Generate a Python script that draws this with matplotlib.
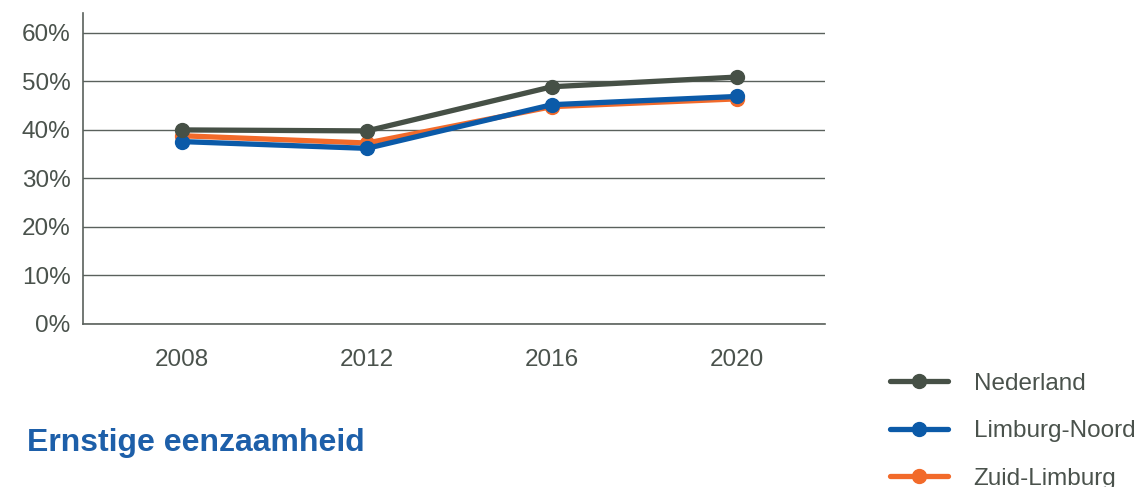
import matplotlib.pyplot as plt
from matplotlib.ticker import PercentFormatter

plt.rcParams['font.family'] = ['Liberation Sans', 'DejaVu Sans']

# Aandeel ernstig eenzamen per regio
jaren = ['2008', '2012', '2016', '2020']
nederland = [40.0, 39.8, 48.9, 50.9]
limburg_noord = [37.6, 36.2, 45.2, 46.9]
zuid_limburg = [38.8, 37.3, 44.8, 46.4]

tekst_kleur = '#4a524c'
lijn_kleur = '#5a615c'

fig = plt.figure(figsize=(11.42, 4.87), dpi=100)
ax = fig.add_axes([83 / 1142, 1 - 324 / 487, 742 / 1142, 311 / 487])

x = range(len(jaren))
reeksen = [
    ('Zuid-Limburg', zuid_limburg, '#f26a2a', 2),
    ('Limburg-Noord', limburg_noord, '#0b5aa8', 3),
    ('Nederland', nederland, '#465046', 4),
]
handles = {}
for naam, waarden, kleur, z in reeksen:
    h, = ax.plot(x, waarden, color=kleur, lw=3.8, marker='o', ms=10,
                 solid_capstyle='round', zorder=z, label=naam)
    handles[naam] = h

ax.set_xlim(-0.535, 3.476)
ax.set_ylim(0, 64.1)
ax.set_yticks(range(0, 61, 10))
ax.yaxis.set_major_formatter(PercentFormatter(decimals=0))
ax.set_xticks(list(x))
ax.set_xticklabels(jaren)
ax.grid(axis='y', color=lijn_kleur, lw=1.0)
ax.set_axisbelow(True)
for kant in ['top', 'right']:
    ax.spines[kant].set_visible(False)
for kant in ['left', 'bottom']:
    ax.spines[kant].set_color(lijn_kleur)
    ax.spines[kant].set_linewidth(1.2)
ax.tick_params(axis='both', length=0, labelsize=17.5, colors=tekst_kleur)
ax.tick_params(axis='y', pad=9)
ax.tick_params(axis='x', pad=18)

volgorde = ['Nederland', 'Limburg-Noord', 'Zuid-Limburg']
leg = fig.legend([handles[n] for n in volgorde], volgorde,
                 loc='upper left', bbox_to_anchor=(880 / 1142, 1 - 363 / 487),
                 frameon=False, fontsize=17.5, handlelength=2.4,
                 handletextpad=1.05, labelspacing=1.05, borderaxespad=0)
for t in leg.get_texts():
    t.set_color(tekst_kleur)

fig.text(27 / 1142, 1 - 443 / 487, 'Ernstige eenzaamheid', color='#1d5fa9',
         fontsize=23, fontweight='bold', va='center', ha='left')

fig.savefig('out.png', dpi=100)
